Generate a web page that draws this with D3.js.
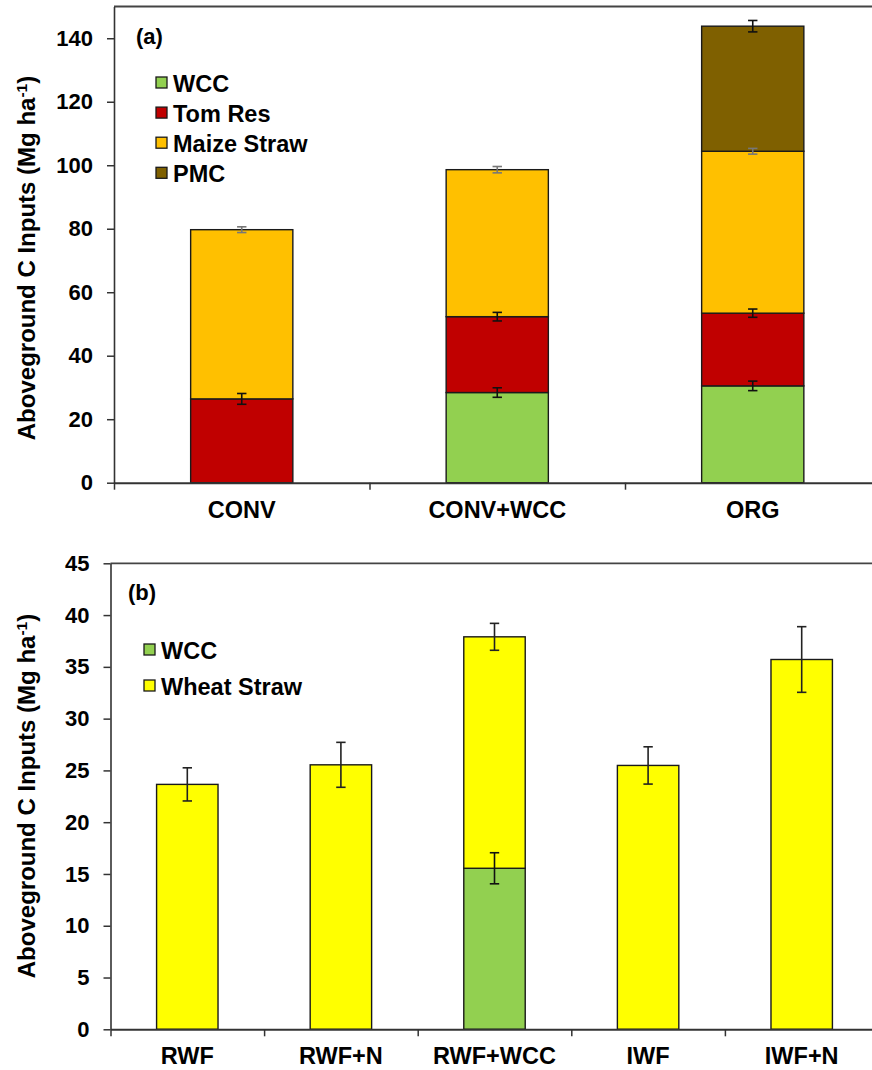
<!DOCTYPE html>
<html>
<head>
<meta charset="utf-8">
<script src="https://cdn.jsdelivr.net/npm/d3@7"></script>
<style>
  html, body { margin: 0; padding: 0; background: #fff; }
  svg text { font-family: "Liberation Sans", Arial, sans-serif; font-weight: bold; fill: #000; }
</style>
</head>
<body>
<svg id="chart" width="872" height="1070"></svg>
<script>
// ---------- Panel (a) data ----------
const catsA = ["CONV", "CONV+WCC", "ORG"];
const seriesA = ["WCC", "Tom Res", "Maize Straw", "PMC"];
const wccA   = [0, 28.4, 30.5];
const tomA   = [26.4, 23.9, 22.9];
const maizeA = [53.3, 46.3, 51.0];
const pmcA   = [0, 0, 39.4];
const errWccA   = [null, 1.5, 1.5];
const errTomA   = [1.7, 1.35, 1.3];
const errMaizeA = [0.9, 1.0, 0.9];
const errPmcA   = [null, null, 1.8];
const ticksA = [0, 20, 40, 60, 80, 100, 120, 140];

// ---------- Panel (b) data ----------
const catsB = ["RWF", "RWF+N", "RWF+WCC", "IWF", "IWF+N"];
const seriesB = ["WCC", "Wheat Straw"];
const wccB   = [0, 0, 15.55, 0, 0];
const wheatB = [23.65, 25.54, 22.35, 25.48, 35.71];
const errWccB   = [null, null, 1.5, null, null];
const errWheatB = [1.6, 2.17, 1.3, 1.8, 3.17];
const ticksB = [0, 5, 10, 15, 20, 25, 30, 35, 40, 45];

const colors = {
  "WCC": "#92D050",
  "Tom Res": "#C00000",
  "Maize Straw": "#FFC000",
  "PMC": "#7F6000",
  "Wheat Straw": "#FFFF00"
};
const errColors = {
  "WCC": "#111", "Tom Res": "#111", "Maize Straw": "#777", "PMC": "#111", "Wheat Straw": "#222"
};

const svg = d3.select("#chart");

function panel(opt) {
  const g = svg.append("g");
  const n = opt.cats.length;
  const x = d3.scaleBand().domain(opt.cats).range([opt.x0, opt.x1]).paddingInner(0.6).paddingOuter(0.3);
  const xi = d3.scaleLinear().domain([0, n]).range([opt.x0, opt.x1]);
  const y = d3.scaleLinear().domain([0, opt.ymax]).range([opt.yBottom, opt.yTop]);

  const rows = opt.cats.map((c, i) => {
    const r = { cat: c };
    opt.series.forEach((s, k) => { r[s] = opt.values[k][i]; });
    return r;
  });
  const stacked = d3.stack().keys(opt.series)(rows);

  // bars
  stacked.forEach((layer, k) => {
    g.append("g").selectAll("rect")
      .data(layer.filter(d => d[1] - d[0] > 0))
      .join("rect")
      .attr("x", d => x(d.data.cat))
      .attr("y", d => y(d[1]))
      .attr("width", x.bandwidth())
      .attr("height", d => y(d[0]) - y(d[1]))
      .attr("fill", colors[opt.series[k]])
      .attr("stroke", "#1a1a1a")
      .attr("stroke-width", 1.4);
  });

  // error bars
  stacked.forEach((layer, k) => {
    const errs = opt.errors[k];
    const cap = 4.7;
    layer.forEach((d, i) => {
      const e = errs[i];
      if (e == null || d[1] - d[0] <= 0) return;
      const cx = x(d.data.cat) + x.bandwidth() / 2;
      const eg = g.append("g").attr("stroke", errColors[opt.series[k]]).attr("stroke-width", 1.6);
      eg.append("line").attr("x1", cx).attr("x2", cx).attr("y1", y(d[1] + e)).attr("y2", y(d[1] - e));
      eg.append("line").attr("x1", cx - cap).attr("x2", cx + cap).attr("y1", y(d[1] + e)).attr("y2", y(d[1] + e));
      eg.append("line").attr("x1", cx - cap).attr("x2", cx + cap).attr("y1", y(d[1] - e)).attr("y2", y(d[1] - e));
    });
  });

  // top frame
  g.append("line")
    .attr("x1", opt.x0).attr("x2", 872 + 20)
    .attr("y1", y(opt.ymax)).attr("y2", y(opt.ymax))
    .attr("stroke", "#444").attr("stroke-width", 1.8);

  // y axis
  const ya = g.append("g")
    .attr("transform", `translate(${opt.x0},0)`)
    .call(d3.axisLeft(y).tickValues(opt.ticks).tickSize(7).tickSizeOuter(0).tickPadding(14));
  ya.select(".domain").attr("stroke", "#333").attr("stroke-width", 1.6);
  ya.selectAll(".tick line").attr("stroke", "#333").attr("stroke-width", 1.5);
  ya.selectAll(".tick text").style("font-size", "22px").attr("fill", "#000");

  // x axis (boundary ticks)
  const xa = g.append("g")
    .attr("transform", `translate(0,${opt.yBottom})`)
    .call(d3.axisBottom(xi).tickValues(d3.range(n + 1)).tickFormat("").tickSize(7).tickSizeOuter(0));
  xa.select(".domain").attr("stroke", "#333").attr("stroke-width", 2);
  xa.selectAll(".tick line").attr("stroke", "#333").attr("stroke-width", 1.5);

  // category labels
  const xl = g.append("g")
    .attr("transform", `translate(0,${opt.yBottom})`)
    .call(d3.axisBottom(x).tickSize(0).tickPadding(opt.labelPad));
  xl.select(".domain").remove();
  xl.selectAll(".tick text").style("font-size", "23.5px").attr("fill", "#000");

  // y title
  const tt = g.append("text")
    .attr("transform", `translate(${opt.titleX},${opt.titleY}) rotate(-90)`)
    .attr("text-anchor", "middle")
    .style("font-size", "24px");
  tt.append("tspan").text("Aboveground C Inputs (Mg ha");
  tt.append("tspan").text("-1").attr("dy", "-0.5em").style("font-size", "15.5px");
  tt.append("tspan").text(")").attr("dy", "0.33em");

  // panel letter
  g.append("text").attr("x", opt.letterX).attr("y", opt.letterY)
    .style("font-size", "22px").text(opt.letter);

  // legend
  const lg = g.append("g");
  opt.series.forEach((s, k) => {
    const cy = opt.legY + k * opt.legStep;
    lg.append("rect").attr("x", opt.legX).attr("y", cy - 6).attr("width", 11).attr("height", 11)
      .attr("fill", colors[s]).attr("stroke", "#1a1a1a").attr("stroke-width", 1.3);
    lg.append("text").attr("x", opt.legX + 17).attr("y", cy + 8.5)
      .style("font-size", "23.5px").text(s);
  });
}

panel({
  cats: catsA, series: seriesA,
  values: [wccA, tomA, maizeA, pmcA],
  errors: [errWccA, errTomA, errMaizeA, errPmcA],
  ticks: ticksA, ymax: 150,
  x0: 114, x1: 880.5, yTop: 6.5, yBottom: 482.7,
  labelPad: 19, titleX: 35, titleY: 258,
  letter: "(a)", letterX: 136, letterY: 44,
  legX: 156, legY: 83, legStep: 30.1
});

panel({
  cats: catsB, series: seriesB,
  values: [wccB, wheatB],
  errors: [errWccB, errWheatB],
  ticks: ticksB, ymax: 45,
  x0: 110.5, x1: 878.5, yTop: 563.3, yBottom: 1029.3,
  labelPad: 18.5, titleX: 35, titleY: 796,
  letter: "(b)", letterX: 128, letterY: 600,
  legX: 144, legY: 650, legStep: 36
});
</script>
</body>
</html>
